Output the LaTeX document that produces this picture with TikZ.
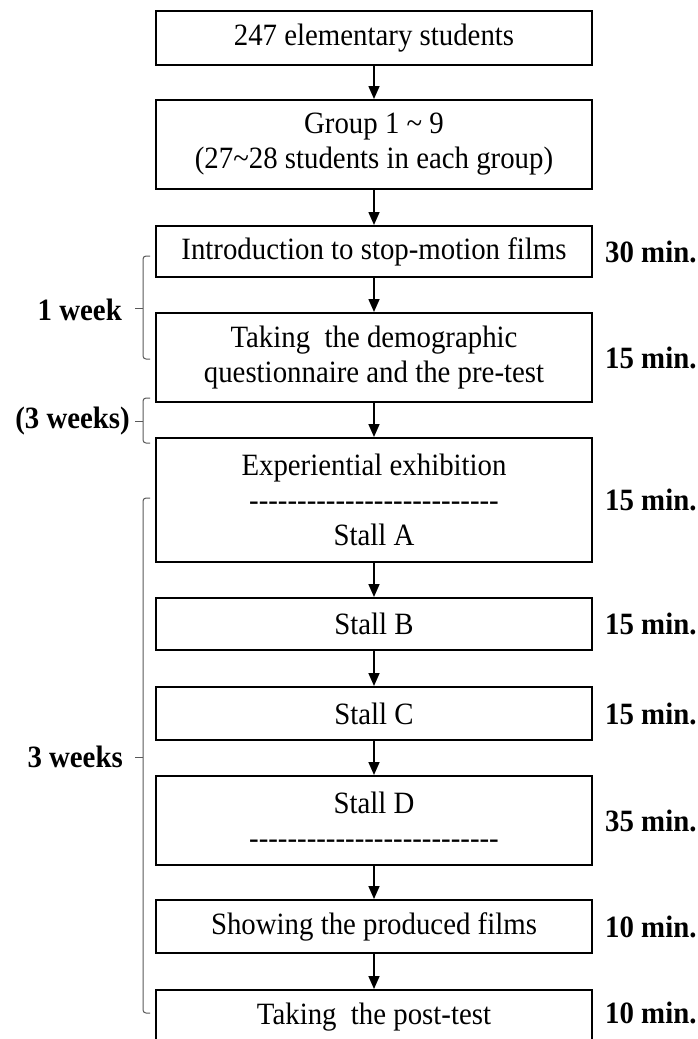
\documentclass[tikz,border=0pt]{standalone}
\usepackage{fontspec}
\setmainfont{Liberation Serif}[FakeStretch=0.93]
\usetikzlibrary{arrows.meta}

\newcommand{\dashrow}{\foreach \k in {1,...,26}{\mbox{-}}}

\tikzset{
  stage/.style={draw, line width=2pt, minimum width=436pt, align=center,
    inner sep=0pt, font=\fontsize{31}{35}\selectfont},
  dur/.style={anchor=west, inner sep=0pt, font=\bfseries\fontsize{31}{35}\selectfont},
  span/.style={anchor=east, inner sep=0pt, font=\bfseries\fontsize{31}{35}\selectfont},
  flow/.style={-{Triangle[length=13pt,width=11pt]}, line width=1.6pt},
  bracket/.style={draw=black!65, line width=1pt, rounded corners=3pt}
}

\begin{document}
\begin{tikzpicture}[x=1pt, y=-1pt]
\useasboundingbox (0,0) rectangle (698,1039);
% stages
\node[stage, minimum height=54pt] (S0) at (374,38) {247 elementary students};
\node[stage, minimum height=89pt] (S1) at (374,144.5) {Group 1 \textasciitilde{} 9\\(27\textasciitilde28 students in each group)};
\node[stage, minimum height=51pt] (S2) at (374,251.5) {Introduction to stop-motion films};
\node[stage, minimum height=89pt] (S3) at (374,357.5) {Taking~ the demographic\\questionnaire and the pre-test};
\node[stage, minimum height=124pt] (S4) at (374,500) {Experiential exhibition\\\dashrow\\Stall A};
\node[stage, minimum height=52pt] (S5) at (374,624) {Stall B};
\node[stage, minimum height=53pt] (S6) at (374,713.5) {Stall C};
\node[stage, minimum height=89pt] (S7) at (374,820.5) {Stall D\\\dashrow};
\node[stage, minimum height=53pt] (S8) at (374,926.5) {Showing the produced films};
\node[stage, minimum height=54pt] (S9) at (374,1017) {Taking~ the post-test};
% arrows
\draw[flow] (S0) -- (S1);
\draw[flow] (S1) -- (S2);
\draw[flow] (S2) -- (S3);
\draw[flow] (S3) -- (S4);
\draw[flow] (S4) -- (S5);
\draw[flow] (S5) -- (S6);
\draw[flow] (S6) -- (S7);
\draw[flow] (S7) -- (S8);
\draw[flow] (S8) -- (S9);
% durations
\node[dur] (T2) at (605,251.5) {30 min.};
\node[dur] (T3) at (605,357.5) {15 min.};
\node[dur] (T4) at (605,500) {15 min.};
\node[dur] (T5) at (605,624) {15 min.};
\node[dur] (T6) at (605,713.5) {15 min.};
\node[dur] (T7) at (605,820.5) {35 min.};
\node[dur] (T8) at (605,926.5) {10 min.};
\node[dur] (T9) at (605,1013) {10 min.};
% brackets
\draw[bracket] (150,256) -- (143,256) -- (143,359) -- (150,359);
\draw[bracket] (143,308) -- (135,308);
\node[span] (W1) at (122,310) {1 week};
\draw[bracket] (150,398) -- (143,398) -- (143,443) -- (150,443);
\draw[bracket] (143,421) -- (135,421);
\node[span] (W2) at (130,421) {(3 weeks)};
\draw[bracket] (150,498) -- (143,498) -- (143,1013) -- (150,1013);
\draw[bracket] (143,757) -- (135,757);
\node[span] (W3) at (123,757) {3 weeks};
\end{tikzpicture}
\end{document}
